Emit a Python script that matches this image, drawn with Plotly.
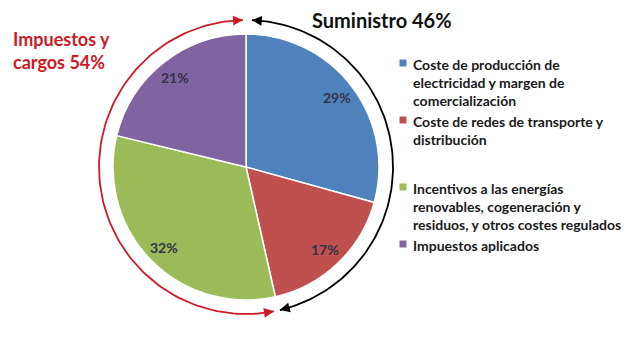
import numpy as np
import plotly.graph_objects as go

# ---- data ----
labels = [
    "Coste de producción de<br>electricidad y margen de<br>comercialización",
    "Coste de redes de transporte y<br>distribución",
    "Incentivos a las energías<br>renovables, cogeneración y<br>residuos, y otros costes regulados",
    "Impuestos aplicados",
]
values = [29, 17, 32, 21]
colors = ["#4f81bd", "#c0504d", "#9bbb59", "#8064a2"]
group_names = ["Suministro", "Impuestos y<br>cargos"]
group_values = [46, 54]

W, H = 643, 362
cx, cy, r = 246, 167, 133
R_arc = 147
FONT = "Lato"

fig = go.Figure()

# pixel overlay axis
fig.update_layout(
    xaxis=dict(range=[0, W], visible=False, fixedrange=True, domain=[0, 1]),
    yaxis=dict(range=[H, 0], visible=False, fixedrange=True, domain=[0, 1]),
)

fig.add_trace(go.Pie(
    labels=labels, values=values, sort=False, direction="clockwise", rotation=0,
    marker=dict(colors=colors, line=dict(color="white", width=1.5)),
    textinfo="none",
    domain=dict(x=[(cx - r) / W, (cx + r) / W], y=[1 - (cy + r) / H, 1 - (cy - r) / H]),
    showlegend=False, hoverinfo="label+value",
))

total = sum(values)
cum = np.cumsum([0] + values) / total * 360.0
boundary = cum[2]

# slice value labels at mid-angle
for v, a0, a1 in zip(values, cum[:-1], cum[1:]):
    t = np.radians((a0 + a1) / 2)
    fig.add_annotation(x=cx + 0.86 * r * np.sin(t), y=cy - 0.86 * r * np.cos(t),
                       xref="x", yref="y", text=f"{v}%", showarrow=False,
                       font=dict(family=FONT, size=14, color="#33334a", weight="bold"))


def arc(t0, t1, n=120):
    t = np.radians(np.linspace(t0, t1, n))
    return cx + R_arc * np.sin(t), cy - R_arc * np.cos(t)


arcs = [
    (2.3, boundary - 0.6, "#000000"),
    (boundary + 1.8, 358.8, "#cc1a26"),
]
for t0, t1, col in arcs:
    xs, ys = arc(t0, t1)
    fig.add_trace(go.Scatter(x=xs, y=ys, mode="lines", line=dict(color=col, width=1.8),
                             showlegend=False, hoverinfo="skip"))
    for tip, back in ((t0, t0 + 4), (t1, t1 - 4)):
        tx, ty = arc(tip, tip, 1)
        bx, by = arc(back, back, 1)
        fig.add_annotation(x=tx[0], y=ty[0], ax=bx[0], ay=by[0], xref="x", yref="y",
                           axref="x", ayref="y", text="", showarrow=True, arrowhead=2,
                           arrowsize=1.1, arrowwidth=1.8, arrowcolor=col)

# group titles
fig.add_annotation(x=310, y=20, xref="x", yref="y", xanchor="left", yanchor="middle",
                   text=f"{group_names[0]} {group_values[0]}%", showarrow=False,
                   font=dict(family=FONT, size=20, color="#111111", weight="bold"))
fig.add_annotation(x=11, y=26, xref="x", yref="y", xanchor="left", yanchor="top",
                   text=f"{group_names[1]} {group_values[1]}%", showarrow=False, align="left",
                   font=dict(family=FONT, size=18, color="#cc1a26", weight="bold"))

# legend (manual)
leg_y = [63, 120, 187, 244]
fig.add_trace(go.Scatter(x=[403] * 4, y=leg_y, mode="markers",
                         marker=dict(symbol="square", size=7, color=colors),
                         showlegend=False, hoverinfo="skip"))
for lab, yy in zip(labels, leg_y):
    fig.add_annotation(x=411, y=yy - 9.5, xref="x", yref="y", xanchor="left", yanchor="top",
                       text=lab, showarrow=False, align="left",
                       font=dict(family=FONT, size=14, color="#1a1a1a", weight="bold"))

fig.update_layout(width=W, height=H, margin=dict(l=0, r=0, t=0, b=0),
                  paper_bgcolor="white", plot_bgcolor="white")
fig.write_html("out.html", config={"displayModeBar": False},
               post_script="document.body.style.margin='0';")
